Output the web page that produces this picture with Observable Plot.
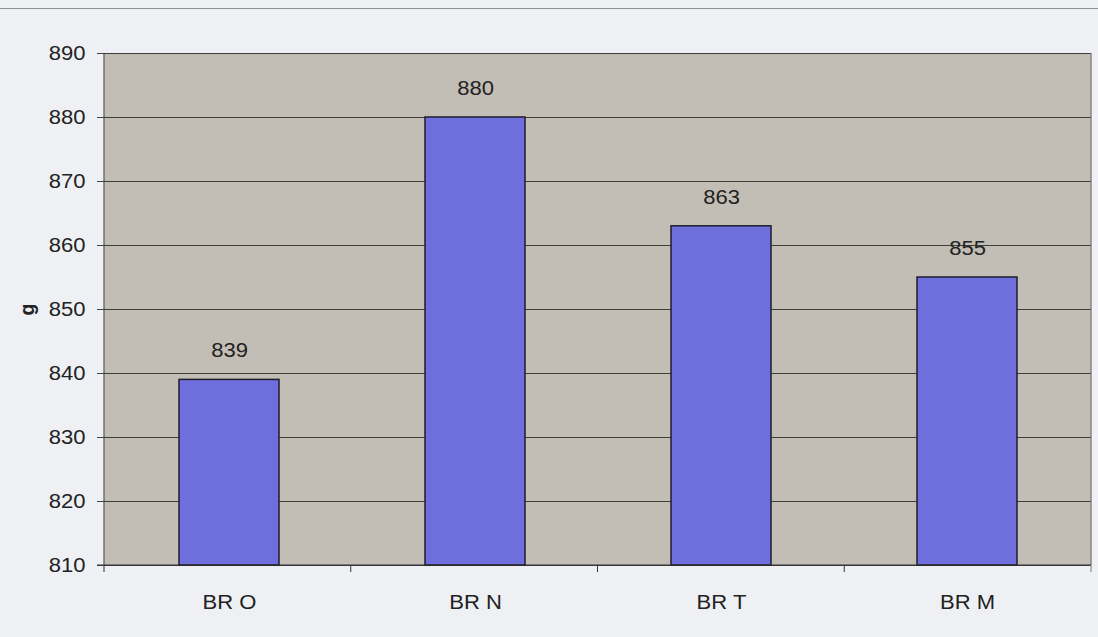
<!DOCTYPE html>
<html>
<head>
<meta charset="utf-8">
<script src="https://cdn.jsdelivr.net/npm/d3@7"></script>
<script src="https://cdn.jsdelivr.net/npm/@observablehq/plot@0.6"></script>
<style>
  html, body { margin: 0; padding: 0; background: #eef0f4; }
  #wrap { position: relative; width: 1098px; height: 637px; overflow: hidden; }
  #topline { position: absolute; left: 0; top: 8px; width: 1098px; height: 1px; background: #8d8f91; }
  #chart svg { display: block; }
</style>
</head>
<body>
<div id="wrap">
  <div id="topline"></div>
  <div id="chart"></div>
</div>
<script>
// Mean weight per group (g)
const categories = ["BR O", "BR N", "BR T", "BR M"];
const values = [839, 880, 863, 855];
const yTicks = [810, 820, 830, 840, 850, 860, 870, 880, 890];
const yLabel = "g";

const data = categories.map((c, i) => ({cat: c, value: values[i]}));
const yDomain = [yTicks[0], yTicks[yTicks.length - 1]];

const W = 1098, H = 637;
const M = {top: 53, right: 7, bottom: 72, left: 104};
const font = "'Liberation Sans', Arial, sans-serif";
const fs = 19.5;
const stretch = 1.13; // type is set slightly wide

// Frame edges, bottom axis line and the category separator ticks below it
const frameLines = (index, scales, values, dims) => {
  const g = d3.create("svg:g");
  const x0 = dims.marginLeft, x1 = dims.width - dims.marginRight;
  const y0 = dims.marginTop, yb = dims.height - dims.marginBottom;
  const n = categories.length;
  const step = (x1 - x0) / n;
  g.append("line").attr("x1", x0).attr("x2", x0).attr("y1", y0).attr("y2", yb).attr("stroke", "#333");
  g.append("line").attr("x1", x1).attr("x2", x1).attr("y1", y0).attr("y2", yb).attr("stroke", "#6a6a6a");
  g.append("line").attr("x1", x0 - 7).attr("x2", x1).attr("y1", yb).attr("y2", yb).attr("stroke", "#333");
  for (let i = 0; i <= n; i++) {
    g.append("line")
      .attr("x1", x0 + i * step).attr("x2", x0 + i * step)
      .attr("y1", yb).attr("y2", yb + 7)
      .attr("stroke", i === n ? "#777" : "#333");
  }
  return g.node();
};

const chart = Plot.plot({
  width: W,
  height: H,
  marginTop: M.top,
  marginRight: M.right,
  marginBottom: M.bottom,
  marginLeft: M.left,
  style: {fontFamily: font, fontSize: fs + "px", color: "#222", background: "transparent"},
  x: {domain: categories, paddingInner: 0.595, paddingOuter: 0.2975},
  y: {domain: yDomain},
  marks: [
    Plot.frame({fill: "#c2beb5", stroke: null}),
    Plot.ruleY(yTicks, {stroke: "#3e3e3e", strokeWidth: 1}),
    Plot.barY(data, {x: "cat", y1: yDomain[0], y2: "value", fill: "#6e6edc", stroke: "#1e1e2a", strokeWidth: 1.5}),
    Plot.text(data, {x: "cat", y: "value", text: d => String(d.value), dy: -29, lineAnchor: "middle", fill: "#222", fontSize: fs}),
    Plot.axisY(yTicks, {tickSize: 7, tickPadding: 12, stroke: "#444", fontSize: fs,
      label: yLabel, labelAnchor: "center", labelArrow: "none", labelOffset: 84}),
    Plot.axisX({tickSize: 0, tickPadding: 30, fontSize: fs, label: null}),
    frameLines
  ]
});

document.getElementById("chart").appendChild(chart);

// Axis title "g" is bold
chart.querySelectorAll("g[aria-label='y-axis label'] text").forEach(t => t.setAttribute("font-weight", "bold"));

// Widen the horizontal texts slightly, keeping their anchors
chart.querySelectorAll("g[aria-label='text'] text, g[aria-label='y-axis tick label'] text, g[aria-label='x-axis tick label'] text")
  .forEach(t => {
    const len = t.getComputedTextLength();
    if (len > 0) {
      t.setAttribute("textLength", (len * stretch).toFixed(2));
      t.setAttribute("lengthAdjust", "spacingAndGlyphs");
    }
  });
</script>
</body>
</html>
